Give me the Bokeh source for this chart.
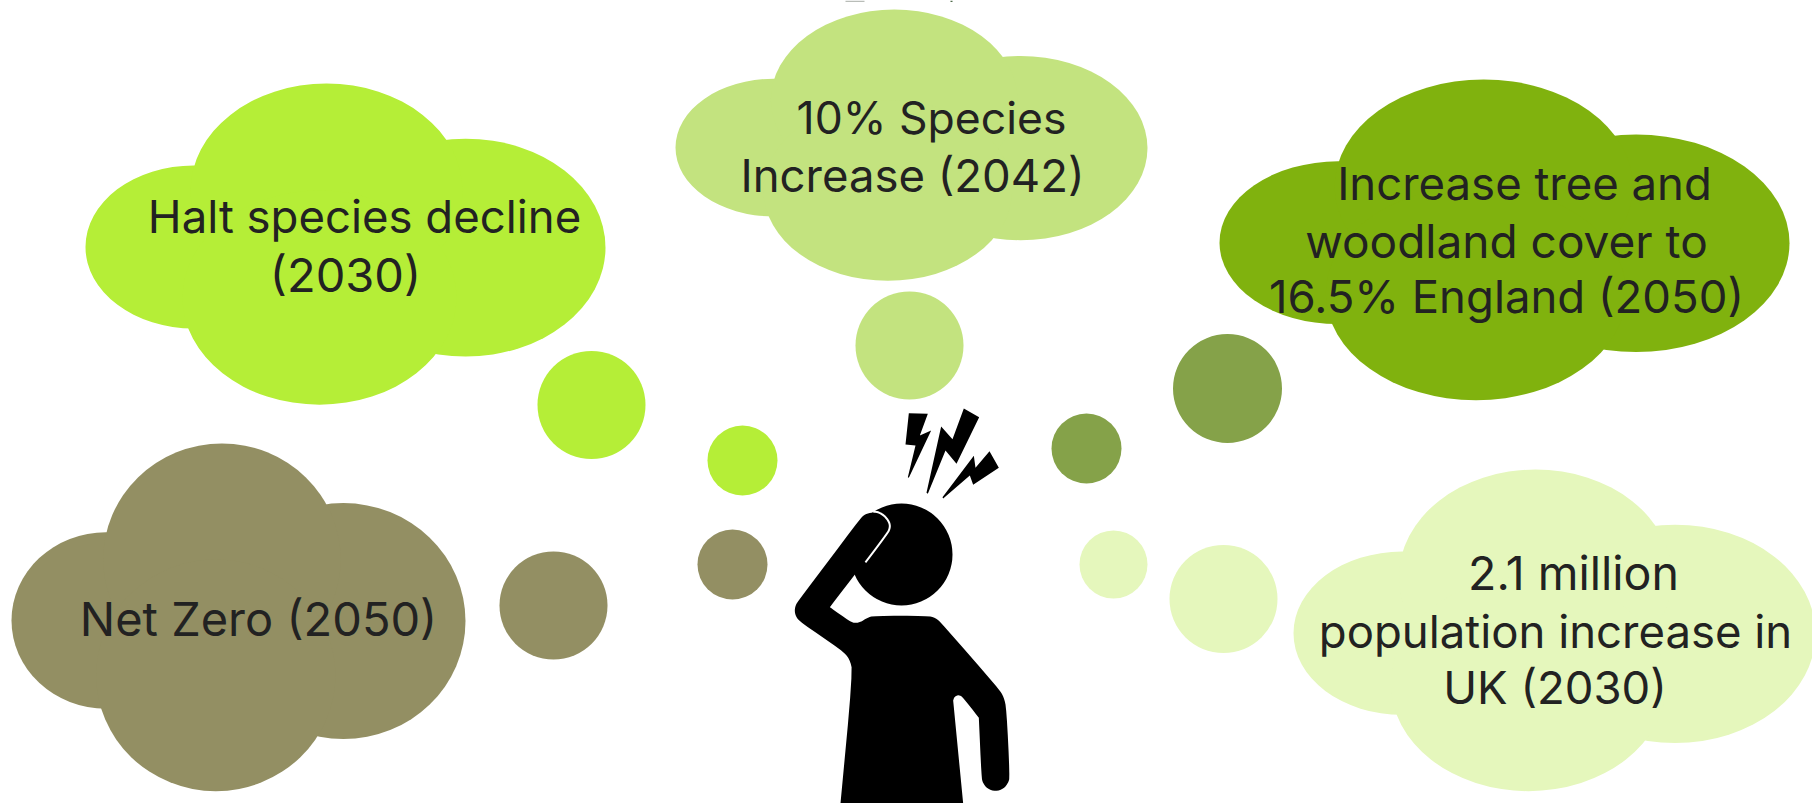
from bokeh.plotting import figure
from bokeh.models import Range1d, ColumnDataSource
from bokeh.core.properties import value
from bokeh.embed import file_html
from bokeh.resources import INLINE

# ---- diagram content -------------------------------------------------
cloud_names = ["Halt", "Species", "Tree", "NetZero", "Population"]
cloud_colors = ["#B5EE37", "#C3E37F", "#80B20E", "#938F63", "#E5F7BC"]
# bounding boxes of the clouds in page pixels: left, top, right, bottom
cloud_left = [85, 675, 1219, 11, 1293]
cloud_top = [83, 9, 79, 443, 469]
cloud_right = [605, 1147, 1789, 465, 1815]
cloud_bottom = [404.5, 280.6, 400, 791, 791]

# lobes of the cloud shape, relative to its box
lobe_cx = [0.208, 0.731, 0.4635, 0.450]
lobe_cy = [0.5085, 0.5103, 0.333, 0.666]
lobe_rx = [0.208, 0.269, 0.2615, 0.2635]
lobe_ry = [0.2535, 0.339, 0.333, 0.333]

bubble_x = [591, 742, 909, 1227, 1086, 553, 732, 1223, 1113]
bubble_y = [404.5, 460, 345, 388, 448, 605, 564, 598.5, 564]
bubble_r = [54, 35, 54, 54.5, 35, 54, 35, 54, 34]
bubble_c = ["#B5EE37", "#B5EE37", "#C3E37F", "#85A249", "#85A249",
            "#938F63", "#938F63", "#E5F7BC", "#E5F7BC"]

label_lines = ["Halt species decline", "(2030)", "10% Species", "Increase (2042)",
               "Increase tree and", "woodland cover to", "16.5% England (2050)",
               "Net Zero (2050)", "2.1 million", "population increase in", "UK (2030)"]
label_x = [364, 345, 931, 912, 1524, 1506, 1506, 258, 1573, 1555, 1554.5]
label_y = [233, 291, 134, 192, 200, 257.5, 313, 635, 589, 648, 704]
label_size = ["45.5px", "47px", "44.5px", "45.5px", "45.5px", "46px", "45.5px",
              "47px", "46.5px", "45.5px", "45.5px"]
FONT = "Inter"
TEXT_COLOR = "#222222"
TEXT_SHIFT = -17

# figure outline, in crop units (x = 650 + u / 3, y = 380 + v / 3)
body_u = [625, 448, 436, 432, 436, 450, 575, 597, 607, 567, 567, 941, 941, 908, 908, 912, 925, 937, 985, 985,
          993, 997, 1010, 1035, 1060, 1073, 1078, 1068, 1060, 1045, 875, 855, 830, 670, 650, 632, 615,
          600, 538, 538, 708, 716, 713, 700, 682, 660, 640]
body_v = [420, 655, 672, 690, 708, 725, 810, 835, 875, 1300, 1300, 1300, 1300, 960, 960, 948, 943, 950, 1012, 1012,
          1190, 1207, 1224, 1233, 1224, 1207, 1190, 985, 950, 925, 730, 712, 706, 706, 712, 724, 728,
          724, 680, 680, 458, 440, 425, 408, 397, 396, 403]
edge_u = [603, 708, 716, 713, 700, 682, 660]
edge_v = [595, 458, 440, 425, 408, 397, 396]
bolt1_u = [775, 832, 808, 842, 775, 772, 795, 765]
bolt1_v = [98, 100, 165, 150, 292, 290, 195, 192]
bolt2_u = [940, 986, 918, 885, 832, 828, 872, 906]
bolt2_v = [84, 110, 250, 210, 340, 337, 138, 176]
bolt3_u = [1017, 1045, 968, 958, 878, 876, 970, 975]
bolt3_v = [212, 262, 313, 285, 354, 350, 226, 262]
head_x, head_y, head_r = 901, 554, 51

# clipped remnants along the top edge
sliver_left = [845, 950]
sliver_right = [864, 952]
sliver_bottom = [1.5, 1.5]
sliver_color = ["#B9BDB8", "#4F6B4A"]


def px(us):
    return [650 + u / 3 for u in us]


def py(vs):
    return [380 + v / 3 for v in vs]


def smooth(xs, ys, closed=True, n=2):
    """Corner cutting so that the outline's rounded parts read as curves."""
    for _ in range(n):
        nx, ny = [], []
        m = len(xs)
        for i in range(m if closed else m - 1):
            j = (i + 1) % m
            nx += [0.75 * xs[i] + 0.25 * xs[j], 0.25 * xs[i] + 0.75 * xs[j]]
            ny += [0.75 * ys[i] + 0.25 * ys[j], 0.25 * ys[i] + 0.75 * ys[j]]
        xs, ys = nx, ny
    return xs, ys


p = figure(width=1812, height=803, output_backend="svg", toolbar_location=None,
           x_range=Range1d(0, 1812), y_range=Range1d(803, 0), min_border=0)
p.axis.visible = False
p.grid.visible = False
p.outline_line_color = None
p.background_fill_color = "#FFFFFF"
p.border_fill_color = "#FFFFFF"

p.quad(left=sliver_left, right=sliver_right, top=[0, 0], bottom=sliver_bottom,
       fill_color=sliver_color, line_color=None)

for c, l, t, r, b in zip(cloud_colors, cloud_left, cloud_top, cloud_right, cloud_bottom):
    w, h = r - l, b - t
    p.ellipse(x=[l + a * w for a in lobe_cx], y=[t + a * h for a in lobe_cy],
              width=[2 * a * w for a in lobe_rx], height=[2 * a * h for a in lobe_ry],
              fill_color=c, line_color=None)

p.ellipse(x=bubble_x, y=bubble_y, width=[2 * r for r in bubble_r], height=[2 * r for r in bubble_r],
          fill_color=bubble_c, line_color=None)

p.ellipse(x=[head_x], y=[head_y], width=[2 * head_r], height=[2 * head_r],
          fill_color="#000000", line_color=None)
ex, ey = smooth(px(edge_u), py(edge_v), closed=False)
p.line(ex, ey, line_color="#FFFFFF", line_width=4, line_join="round")
bx, by = smooth(px(body_u), py(body_v))
p.patches([bx, px(bolt1_u), px(bolt2_u), px(bolt3_u)],
          [by, py(bolt1_v), py(bolt2_v), py(bolt3_v)],
          fill_color="#000000", line_color=None)

labels = ColumnDataSource(dict(x=label_x, y=label_y, text=label_lines, size=label_size))
p.text(x="x", y="y", text="text", source=labels, text_font=value(FONT),
       text_font_size="size", text_color=TEXT_COLOR,
       text_align="center", text_baseline="alphabetic", y_offset=TEXT_SHIFT)

open("out.html", "w").write(file_html(p, INLINE))
